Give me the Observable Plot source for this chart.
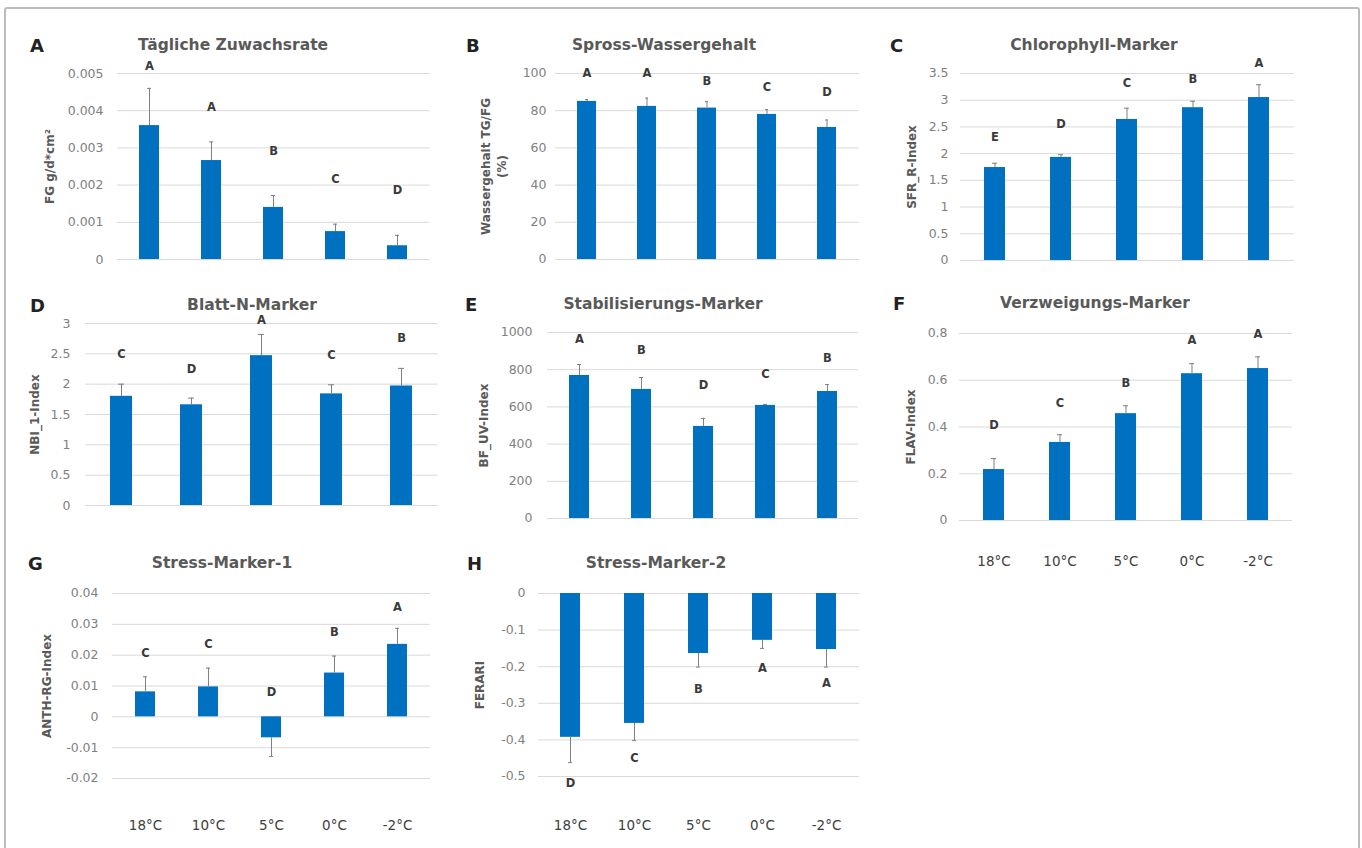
<!DOCTYPE html>
<html>
<head>
<meta charset="utf-8">
<script src="https://cdn.jsdelivr.net/npm/d3@7"></script>
<script src="https://cdn.jsdelivr.net/npm/@observablehq/plot@0.6"></script>
<style>
  html, body { margin: 0; padding: 0; background: #fff; }
  #page { position: relative; width: 1362px; height: 848px; overflow: hidden; font-family: "DejaVu Sans", sans-serif; }
  #frame { position: absolute; left: 4px; top: 7px; width: 1352px; height: 900px; border: 2px solid #bcbcbc; border-radius: 3px; }
  .ttl { position: absolute; transform: translate(-50%, -50%); font-weight: bold; font-size: 15.5px; color: #595959; white-space: nowrap; }
  .let { position: absolute; transform: translateY(-50%); font-weight: bold; font-size: 18px; color: #222; }
  .pnl { position: absolute; }
  .pnl svg { max-width: none !important; overflow: visible; }
</style>
</head>
<body>
<div id="page"><div id="frame"></div></div>
<script>
// ---------- data ----------
const temps = ["18°C", "10°C", "5°C", "0°C", "-2°C"];

const aValues = [0.0036, 0.00266, 0.0014, 0.00075, 0.00037];
const aSD = [0.001, 0.0005, 0.00032, 0.0002, 0.00028];
const aLetters = ["A", "A", "B", "C", "D"];
const aLetterY = [0.0052, 0.0041, 0.0029, 0.00215, 0.00185];
const aTicks = [0, 0.001, 0.002, 0.003, 0.004, 0.005];

const bValues = [85, 82.3, 81.4, 78, 71];
const bSD = [1, 4.5, 3.5, 2.6, 4];
const bLetters = ["A", "A", "B", "C", "D"];
const bLetterY = [100, 100, 96, 92.5, 90];
const bTicks = [0, 20, 40, 60, 80, 100];

const cValues = [1.74, 1.93, 2.64, 2.86, 3.05];
const cSD = [0.08, 0.05, 0.21, 0.12, 0.24];
const cLetters = ["E", "D", "C", "B", "A"];
const cLetterY = [2.3, 2.55, 3.31, 3.4, 3.69];
const cTicks = [0, 0.5, 1, 1.5, 2, 2.5, 3, 3.5];

const dValues = [1.8, 1.66, 2.47, 1.84, 1.97];
const dSD = [0.2, 0.11, 0.35, 0.15, 0.29];
const dLetters = ["C", "D", "A", "C", "B"];
const dLetterY = [2.49, 2.24, 3.05, 2.47, 2.75];
const dTicks = [0, 0.5, 1, 1.5, 2, 2.5, 3];

const eValues = [769, 694, 495, 608, 683];
const eSD = [59, 64, 43, 5, 37];
const eLetters = ["A", "B", "D", "C", "B"];
const eLetterY = [962, 903, 715, 774, 860];
const eTicks = [0, 200, 400, 600, 800, 1000];

const fValues = [0.218, 0.334, 0.457, 0.628, 0.65];
const fSD = [0.047, 0.033, 0.034, 0.043, 0.05];
const fLetters = ["D", "C", "B", "A", "A"];
const fLetterY = [0.406, 0.5, 0.585, 0.77, 0.795];
const fTicks = [0, 0.2, 0.4, 0.6, 0.8];

const gValues = [0.0081, 0.0097, -0.0068, 0.0142, 0.0235];
const gSD = [0.0049, 0.0061, 0.0061, 0.0055, 0.0052];
const gLetters = ["C", "C", "D", "B", "A"];
const gLetterY = [0.0206, 0.0235, 0.008, 0.0274, 0.0355];
const gTicks = [-0.02, -0.01, 0, 0.01, 0.02, 0.03, 0.04];

const hValues = [-0.393, -0.355, -0.164, -0.128, -0.153];
const hSD = [0.069, 0.047, 0.037, 0.022, 0.048];
const hLetters = ["D", "C", "B", "A", "A"];
const hLetterY = [-0.52, -0.45, -0.263, -0.205, -0.246];
const hTicks = [-0.5, -0.4, -0.3, -0.2, -0.1, 0];

// ---------- layout ----------
const panels = [
  {id: "A", title: "Tägliche Zuwachsrate", ylabel: "FG g/d*cm²", values: aValues, sd: aSD, letters: aLetters, letterY: aLetterY, ticks: aTicks,
   x0: 116.75, x1: 429.25, yT: 73, yB: 259, titleX: 233, titleY: 45, letX: 30, letY: 45, ylabX: 48, tickPad: 14, showX: false},
  {id: "B", title: "Spross-Wassergehalt", ylabel: "Wassergehalt TG/FG\n(%)", values: bValues, sd: bSD, letters: bLetters, letterY: bLetterY, ticks: bTicks,
   x0: 554.6, x1: 858.4, yT: 73, yB: 259, titleX: 664, titleY: 45, letX: 466, letY: 45, ylabX: 492, tickPad: 9, showX: false},
  {id: "C", title: "Chlorophyll-Marker", ylabel: "SFR_R-Index", values: cValues, sd: cSD, letters: cLetters, letterY: cLetterY, ticks: cTicks,
   x0: 959.6, x1: 1293.4, yT: 73, yB: 260, titleX: 1094, titleY: 45, letX: 890, letY: 45, ylabX: 910, tickPad: 12, showX: false},
  {id: "D", title: "Blatt-N-Marker", ylabel: "NBI_1-Index", values: dValues, sd: dSD, letters: dLetters, letterY: dLetterY, ticks: dTicks,
   x0: 84.75, x1: 437.25, yT: 323, yB: 505, titleX: 252, titleY: 305, letX: 30, letY: 305, ylabX: 33, tickPad: 15, showX: false},
  {id: "E", title: "Stabilisierungs-Marker", ylabel: "BF_UV-Index", values: eValues, sd: eSD, letters: eLetters, letterY: eLetterY, ticks: eTicks,
   x0: 547.4, x1: 858.6, yT: 332, yB: 518, titleX: 663, titleY: 304, letX: 465, letY: 304, ylabX: 483, tickPad: 15, showX: false},
  {id: "F", title: "Verzweigungs-Marker", ylabel: "FLAV-Index", values: fValues, sd: fSD, letters: fLetters, letterY: fLetterY, ticks: fTicks,
   x0: 959.2, x1: 1292.3, yT: 333, yB: 520, titleX: 1095, titleY: 303, letX: 893, letY: 303, ylabX: 910, tickPad: 12, showX: true, xPad: 36},
  {id: "G", title: "Stress-Marker-1", ylabel: "ANTH-RG-Index", values: gValues, sd: gSD, letters: gLetters, letterY: gLetterY, ticks: gTicks,
   x0: 111.7, x1: 429.8, yT: 593, yB: 778, titleX: 222, titleY: 563, letX: 28, letY: 563, ylabX: 45, tickPad: 14, showX: true, xPad: 42},
  {id: "H", title: "Stress-Marker-2", ylabel: "FERARI", values: hValues, sd: hSD, letters: hLetters, letterY: hLetterY, ticks: hTicks,
   x0: 537.9, x1: 859.1, yT: 593, yB: 776, titleX: 656, titleY: 563, letX: 467, letY: 563, ylabX: 478, tickPad: 13, showX: true, xPad: 44}
];

const page = document.getElementById("page");
const ML = 110, MR = 20, MT = 60, MB = 70;
const FONT = "DejaVu Sans, sans-serif";

for (const p of panels) {
  const data = temps.map((t, i) => ({
    t, v: p.values[i],
    e: p.values[i] + Math.sign(p.values[i]) * p.sd[i],
    l: p.letters[i], ly: p.letterY[i]
  }));
  const domain = [p.ticks[0], p.ticks[p.ticks.length - 1]];
  const marks = [
    Plot.ruleY(p.ticks, {stroke: "#d9d9d9", strokeWidth: 1}),
    Plot.barY(data, {x: "t", y1: 0, y2: "v", fill: "#0070C0"}),
    Plot.ruleX(data, {x: "t", y1: "v", y2: "e", stroke: "#808080", strokeWidth: 1}),
    Plot.tickY(data, {x: "t", y: "e", stroke: "#808080", strokeWidth: 1, insetLeft: 8, insetRight: 8}),
    Plot.text(data, {x: "t", y: "ly", text: "l", fill: "#3a3a3a", fontSize: 11.5, fontWeight: "600"}),
    Plot.axisY(p.ticks, {tickSize: 0, tickPadding: p.tickPad, tickFormat: d => String(d), fill: "#808080", fontSize: 12.5, label: null}),
    Plot.text([p.ylabel], {frameAnchor: "left", dx: p.ylabX - p.x0, rotate: -90, textAnchor: "middle", lineAnchor: "middle",
      fill: "#595959", fontSize: 12, fontWeight: "bold", lineHeight: 1.35})
  ];
  if (p.showX) marks.push(Plot.axisX({tickSize: 0, tickPadding: p.xPad, fill: "#404040", fontSize: 13.5, label: null}));
  const svg = Plot.plot({
    width: (p.x1 - p.x0) + ML + MR,
    height: (p.yB - p.yT) + MT + MB,
    marginLeft: ML, marginRight: MR, marginTop: MT, marginBottom: MB,
    style: {fontFamily: FONT, background: "transparent", overflow: "visible"},
    x: {type: "band", domain: temps, paddingInner: 0.68, paddingOuter: 0.34, align: 0.5, axis: null},
    y: {domain, axis: null},
    marks
  });
  const wrap = document.createElement("div");
  wrap.className = "pnl";
  wrap.style.left = (p.x0 - ML) + "px";
  wrap.style.top = (p.yT - MT) + "px";
  wrap.appendChild(svg);
  page.appendChild(wrap);

  const t = document.createElement("div");
  t.className = "ttl";
  t.textContent = p.title;
  t.style.left = p.titleX + "px";
  t.style.top = p.titleY + "px";
  page.appendChild(t);

  const l = document.createElement("div");
  l.className = "let";
  l.textContent = p.id;
  l.style.left = p.letX + "px";
  l.style.top = p.letY + "px";
  page.appendChild(l);
}
</script>
</body>
</html>
